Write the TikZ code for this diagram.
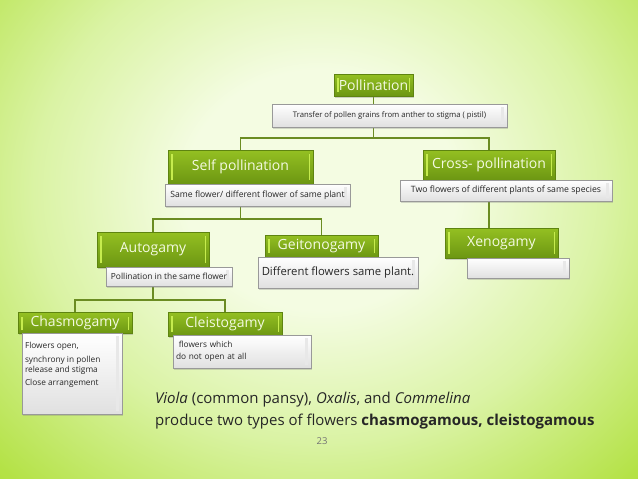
\documentclass[tikz,border=0pt]{standalone}
\usepackage{fontspec}
\setmainfont{Open Sans}
\usetikzlibrary{shadows,backgrounds}
\definecolor{gtop}{HTML}{94C022}
\definecolor{gbot}{HTML}{6C9612}
\definecolor{gdraw}{HTML}{5E8410}
\definecolor{gstrip}{HTML}{C6EC4E}
\definecolor{gtext}{HTML}{F4FAE2}
\definecolor{lcol}{HTML}{6B8C22}
\definecolor{bgin}{HTML}{F4FCE2}
\definecolor{bgmid}{HTML}{DAF3A4}
\definecolor{bgout}{HTML}{B4E246}
\definecolor{bgfar}{HTML}{A0D22C}
\pgfdeclareradialshading{bgshade}{\pgfpoint{0bp}{0bp}}{color(0bp)=(bgin); color(10bp)=(bgin); color(21bp)=(bgmid); color(33bp)=(bgout); color(46bp)=(bgfar); color(50bp)=(bgfar)}
\tikzset{
  greenbox/.style={draw=gdraw, line width=0.5pt, top color=gtop, bottom color=gbot,
    text=gtext, font=\fontsize{14}{16}\selectfont, inner sep=0pt,
    drop shadow={shadow xshift=1pt, shadow yshift=-1.5pt, opacity=0.35},
    path picture={
      \fill[gstrip] ([xshift=3pt,yshift=-4pt]path picture bounding box.north west) rectangle ([xshift=4.5pt,yshift=4pt]path picture bounding box.south west);
      \fill[gstrip] ([xshift=-3pt,yshift=-4pt]path picture bounding box.north east) rectangle ([xshift=-4.5pt,yshift=4pt]path picture bounding box.south east);}},
  greybox/.style={draw=black!40, line width=0.4pt, top color=white, bottom color=black!12,
    text=black!85, inner sep=0pt,
    drop shadow={shadow xshift=1pt, shadow yshift=-1.5pt, opacity=0.3},
    path picture={
      \fill[black!9] ([xshift=-3pt,yshift=-3pt]path picture bounding box.north east) rectangle ([xshift=-6pt,yshift=3pt]path picture bounding box.south east);}},
  conn/.style={draw=lcol, line width=1.3pt},
}
\begin{document}
\begin{tikzpicture}[x=1pt,y=-1pt]
\useasboundingbox (0,0) rectangle (638,479);
\begin{scope}[on background layer]
  \clip (0,0) rectangle (638,479);
  \shade[shading=bgshade] (-20,-110) rectangle (660,490);
\end{scope}

\node[greenbox, minimum width=79pt, minimum height=22pt] (poll) at (373.5,85) {Pollination};
\node[greybox, minimum width=235pt, minimum height=23pt, font=\fontsize{7.7}{9}\selectfont] (trans) at (389.5,115.5) {Transfer of pollen grains from anther to stigma ( pistil)};

\node[greenbox, minimum width=145pt, minimum height=34pt] (self) at (240.5,167) {Self pollination};
\node[greybox, minimum width=185pt, minimum height=22pt, font=\fontsize{8.6}{10}\selectfont] (selfd) at (257.5,195) {Same flower/ different flower of same plant};

\node[greenbox, minimum width=132pt, minimum height=30pt] (cross) at (489,165) {Cross- pollination};
\node[greybox, minimum width=212pt, minimum height=21pt, font=\fontsize{8.7}{10}\selectfont] (crossd) at (506,190.5) {Two flowers of different plants of same species};

\node[greenbox, minimum width=112pt, minimum height=35pt] (auto) at (153,249.5) {Autogamy};
\node[greybox, minimum width=126pt, minimum height=19pt, font=\fontsize{8.4}{10}\selectfont] (autod) at (169,276.5) {Pollination in the same flower};

\node[greenbox, minimum width=113pt, minimum height=22pt] (geito) at (321.5,246) {Geitonogamy};
\node[greybox, minimum width=160pt, minimum height=31pt, font=\fontsize{11.3}{13}\selectfont] (geitod) at (338,272.5) {Different flowers same plant.};

\node[greenbox, minimum width=113pt, minimum height=30pt] (xeno) at (501.5,243) {Xenogamy};
\node[greybox, minimum width=102pt, minimum height=20pt] (xenod) at (518,268) {};

\node[greenbox, minimum width=114pt, minimum height=21pt] (chasmo) at (75,323) {Chasmogamy};
\node[greybox, minimum width=100pt, minimum height=81pt, font=\fontsize{8.3}{10}\selectfont] (chasmod) at (72,373.5) {\parbox[c][63pt][t]{94pt}{\raggedright Flowers open,\\[4pt] synchrony in pollen\\ release and stigma\\[3pt] Close arrangement}};

\node[greenbox, minimum width=114pt, minimum height=24pt] (cleisto) at (225,324) {Cleistogamy};
\node[greybox, minimum width=138pt, minimum height=33pt, text width=132pt, align=left, font=\fontsize{8.3}{12}\selectfont] (cleistod) at (242,351.5) {\ flowers which\\do not open at all};

\begin{scope}[on background layer]
  \coordinate (j1) at (373.5,138);
  \draw[conn] (poll) -- (j1);
  \draw[conn] (self.north) |- (j1) -| (cross.north);
  \coordinate (j2) at (240.5,219);
  \draw[conn] (self) -- (j2);
  \draw[conn] (auto.north) |- (j2) -| (geito.north);
  \draw[conn] (cross) -- (cross |- xeno.north);
  \coordinate (j4) at (153,300);
  \draw[conn] (auto) -- (j4);
  \draw[conn] (chasmo.north) |- (j4) -| (cleisto.north);
\end{scope}

\node[anchor=base west, inner sep=0pt, text=black!85, font=\fontsize{15}{17}\selectfont] (cap1) at (155,403) {\textit{Viola} (common pansy), \textit{Oxalis}, and \textit{Commelina}};
\node[anchor=base west, inner sep=0pt, text=black!85, font=\fontsize{15}{17}\selectfont] (cap2) at (155,425) {produce two types of flowers \textbf{chasmogamous, cleistogamous}};
\node[text=black!55, font=\fontsize{9.5}{11}\selectfont] (pg) at (322,441) {23};
\end{tikzpicture}
\end{document}
